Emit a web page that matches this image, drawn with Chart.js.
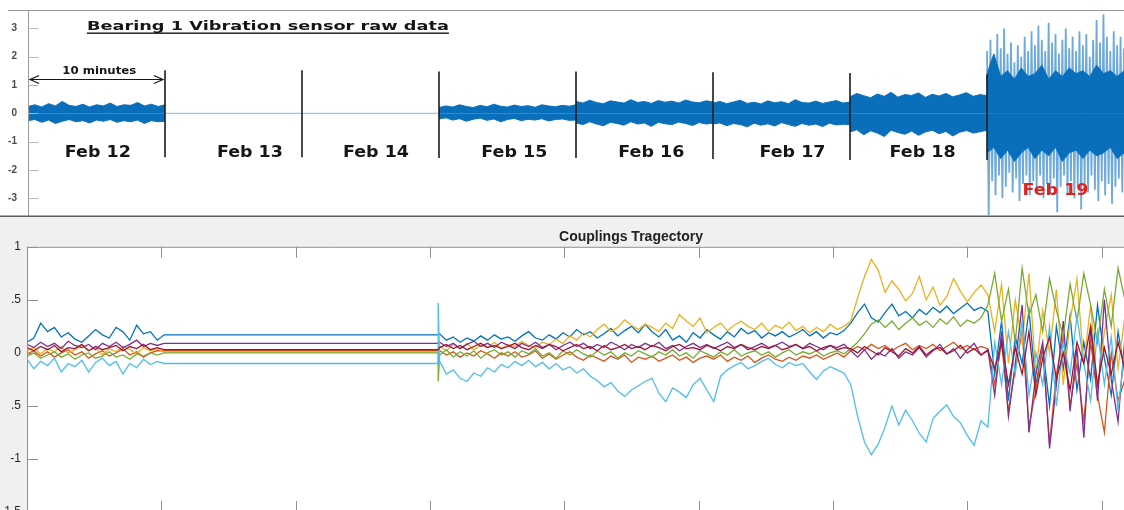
<!DOCTYPE html>
<html>
<head>
<meta charset="utf-8">
<script src="https://cdn.jsdelivr.net/npm/chart.js@4.4.1/dist/chart.umd.min.js"></script>
<style>
  html, body { margin: 0; padding: 0; background: #fff; }
  #wrap { position: relative; width: 1124px; height: 510px; overflow: hidden; }
  #topBox { position: absolute; left: 0; top: 0; width: 1124px; height: 217px; }
  #bottomBox { position: absolute; left: 0; top: 217px; width: 1262px; height: 310px; }
</style>
</head>
<body>
<div id="wrap">
  <div id="topBox"><canvas id="rawChart"></canvas></div>
  <div id="bottomBox"><canvas id="couplingChart"></canvas></div>
</div>
<script>
// ---------- top panel: raw vibration (x in days, one day = one 10 minute record) ----------
const rawTitle = 'Bearing 1 Vibration sensor raw data';
const dayLabels = ['Feb 12', 'Feb 13', 'Feb 14', 'Feb 15', 'Feb 16', 'Feb 17', 'Feb 18', 'Feb 19'];
const topTicks = [-3, -2, -1, 0, 1, 2, 3];

// envelope of the signal, sampled every 0.05 day
const feb12Upper = [0.24, 0.3, 0.22, 0.34, 0.26, 0.42, 0.28, 0.24, 0.32, 0.22, 0.3, 0.26, 0.36, 0.24, 0.3, 0.28, 0.38, 0.26, 0.32, 0.24, 0.3];
const feb12Lower = [-0.26, -0.22, -0.32, -0.24, -0.36, -0.28, -0.22, -0.3, -0.26, -0.34, -0.24, -0.28, -0.22, -0.32, -0.26, -0.3, -0.24, -0.36, -0.26, -0.3, -0.28];
const feb15Upper = [0.2, 0.26, 0.22, 0.3, 0.24, 0.2, 0.28, 0.23, 0.32, 0.25, 0.22, 0.29, 0.24, 0.27, 0.21, 0.3, 0.26, 0.23, 0.28, 0.25, 0.3];
const feb15Lower = [-0.2, -0.16, -0.24, -0.19, -0.28, -0.21, -0.17, -0.25, -0.2, -0.3, -0.22, -0.18, -0.26, -0.21, -0.24, -0.19, -0.27, -0.22, -0.2, -0.25, -0.24];
const feb16Upper = [0.42, 0.36, 0.46, 0.38, 0.34, 0.44, 0.4, 0.36, 0.48, 0.38, 0.42, 0.35, 0.45, 0.39, 0.43, 0.36, 0.47, 0.4, 0.37, 0.44, 0.4];
const feb16Lower = [-0.34, -0.4, -0.3, -0.38, -0.44, -0.32, -0.36, -0.42, -0.3, -0.38, -0.34, -0.46, -0.32, -0.37, -0.4, -0.31, -0.36, -0.43, -0.33, -0.38, -0.35];
const feb17Upper = [0.36, 0.42, 0.34, 0.4, 0.46, 0.35, 0.39, 0.33, 0.44, 0.37, 0.41, 0.34, 0.48, 0.38, 0.36, 0.43, 0.35, 0.4, 0.45, 0.36, 0.4];
const feb17Lower = [-0.38, -0.34, -0.44, -0.36, -0.4, -0.48, -0.35, -0.42, -0.37, -0.45, -0.33, -0.4, -0.46, -0.36, -0.42, -0.38, -0.47, -0.35, -0.41, -0.39, -0.4];
const feb18Upper = [0.58, 0.7, 0.62, 0.55, 0.68, 0.6, 0.74, 0.57, 0.66, 0.63, 0.72, 0.56, 0.67, 0.61, 0.7, 0.58, 0.65, 0.73, 0.6, 0.66, 0.62];
const feb18Lower = [-0.66, -0.58, -0.76, -0.62, -0.7, -0.82, -0.6, -0.68, -0.74, -0.63, -0.78, -0.66, -0.6, -0.72, -0.64, -0.8, -0.67, -0.61, -0.7, -0.65, -0.6];
const feb19CoreUpper = [1.4, 2.1, 1.3, 1.5, 1.2, 1.6, 1.3, 1.4, 1.7, 1.2, 1.5, 1.3, 1.6, 1.4, 1.5, 1.3, 1.7, 1.4, 1.5, 1.3, 1.5];
const feb19CoreLower = [-1.4, -1.2, -1.6, -1.3, -1.7, -1.4, -1.2, -1.6, -1.3, -1.5, -1.2, -1.7, -1.4, -1.3, -1.6, -1.3, -1.5, -1.4, -1.2, -1.6, -1.4];
// Feb 19 peaks, every 0.025 day
const feb19SpikeHigh = [2.2, 2.6, 1.9, 2.8, 2.3, 3.0, 2.1, 2.5, 1.8, 2.4, 2.0, 2.7, 2.2, 2.9, 2.4, 3.1, 2.6, 2.2, 3.2, 2.5, 2.8, 2.1, 2.6, 3.0, 2.3, 2.7, 2.2, 2.9, 2.4, 2.8, 2.0, 2.6, 3.3, 2.5, 3.5, 2.7, 2.2, 2.9, 2.4, 2.7, 2.3];
const feb19SpikeLow = [-3.6, -2.4, -2.9, -2.2, -3.0, -2.6, -2.1, -2.8, -2.3, -3.1, -2.5, -2.2, -2.9, -2.4, -2.7, -2.2, -3.0, -2.5, -2.8, -2.3, -3.5, -2.6, -2.2, -2.9, -2.4, -3.0, -2.6, -3.4, -2.5, -2.8, -2.2, -2.7, -3.1, -2.4, -2.9, -2.5, -3.2, -2.6, -2.3, -2.8, -2.5];
const quietLevel = 0; // Feb 13 and Feb 14 carry no signal
const dividerTop = [1.52, 1.52, 1.48, 1.48, 1.45, 1.42, 1.38];
const dividerBottom = [-1.55, -1.55, -1.58, -1.58, -1.62, -1.65, -1.65];

// ---------- bottom panel: couplings trajectory ----------
const couplingTitle = 'Couplings Tragectory';
const bottomTickValues = [-1.5, -1, -0.5, 0, 0.5, 1];
const bottomTickLabels = ['-1.5', '-1', '.5', '0', '.5', '1'];
const bottomXTicks = [0.98, 1.96, 2.94, 3.92, 4.9, 5.88, 6.86, 7.84, 8.82];
const couplingColors = ['#0072BD', '#D95319', '#EDB120', '#7E2F8E', '#77AC30', '#4DBEEE', '#A2142F'];

// Feb 12, every 0.05 day
const blueEarly = [0.1, 0.14, 0.28, 0.2, 0.24, 0.15, 0.19, 0.13, 0.1, 0.16, 0.22, 0.17, 0.14, 0.24, 0.2, 0.12, 0.26, 0.18, 0.2, 0.12];
const orangeEarly = [-0.01, 0.02, -0.03, 0.01, -0.04, 0.0, 0.03, -0.02, 0.01, -0.05, -0.01, 0.02, -0.03, 0.0, 0.04, -0.02, 0.01, -0.04, 0.0, 0.02];
const yellowEarly = [0.02, 0.05, -0.01, 0.04, 0.01, 0.06, 0.0, 0.03, 0.07, 0.02, 0.05, -0.02, 0.04, 0.01, 0.06, 0.03, -0.01, 0.05, 0.02, 0.04];
const purpleEarly = [0.08, 0.05, 0.1, 0.06, 0.09, 0.04, 0.11, 0.07, 0.05, 0.08, 0.03, 0.09, 0.06, 0.1, 0.05, 0.08, 0.12, 0.06, 0.09, 0.07];
const greenEarly = [-0.03, 0.0, -0.05, -0.02, 0.01, -0.04, -0.01, -0.06, -0.02, 0.0, -0.05, -0.03, 0.01, -0.04, -0.02, -0.06, -0.01, -0.03, 0.0, -0.02];
const cyanEarly = [-0.06, -0.15, -0.08, -0.12, -0.05, -0.18, -0.1, -0.13, -0.07, -0.18, -0.09, -0.05, -0.12, -0.08, -0.2, -0.1, -0.14, -0.06, -0.11, -0.08];
const redEarly = [0.05, 0.02, 0.06, 0.03, 0.07, 0.01, 0.05, 0.04, 0.08, 0.02, 0.06, 0.03, 0.05, 0.07, 0.02, 0.06, 0.04, 0.08, 0.03, 0.05];

// held values through Feb 13-14, and the jump when data resumes
const quietCouplings = [0.17, 0.02, 0.01, 0.09, 0.0, -0.1, 0.03];
const restartSpike = [null, null, null, null, -0.27, 0.47, null];

// Feb 15 to Feb 19, every 0.05 day
const blueLate = [0.18, 0.12, 0.15, 0.1, 0.14, 0.11, 0.16, 0.12, 0.17, 0.13, 0.15, 0.11, 0.16, 0.2, 0.14, 0.12, 0.17, 0.13, 0.19, 0.15,
  0.22, 0.17, 0.2, 0.14, 0.18, 0.23, 0.16, 0.21, 0.25, 0.19, 0.27, 0.2, 0.15, 0.22, 0.12, 0.16, 0.1, 0.19, 0.14, 0.22,
  0.17, 0.13, 0.2, 0.15, 0.23, 0.18, 0.21, 0.14, 0.19, 0.16, 0.2, 0.15, 0.18, 0.22, 0.16, 0.2, 0.14, 0.19, 0.17, 0.21,
  0.28, 0.38, 0.46, 0.33, 0.29, 0.38, 0.46, 0.35, 0.39, 0.33, 0.41, 0.36, 0.43, 0.38, 0.44, 0.37, 0.42, 0.47, 0.4, 0.43,
  0.39, -0.2, 0.3, -0.45, 0.15, -0.1, 0.4, -0.3, 0.05, -0.5, 0.25, -0.15, 0.35, -0.35, 0.1, -0.25, 0.45, -0.05, -0.4, 0.2, -0.2];
const orangeLate = [0.02, -0.02, 0.01, -0.04, 0.0, -0.03, 0.02, -0.01, -0.05, 0.0, -0.03, 0.01, -0.04, -0.02, 0.02, -0.05, -0.01, -0.06, -0.02, 0.01,
  -0.04, -0.07, -0.02, -0.05, -0.08, -0.03, -0.06, -0.02, -0.09, -0.04, -0.06, -0.03, -0.08, -0.05, -0.02, -0.07, -0.04, -0.09, -0.05, -0.03,
  -0.06, -0.02, -0.08, -0.04, -0.07, -0.03, -0.09, -0.05, -0.02, -0.06, -0.08, -0.04, -0.07, -0.03, -0.05, -0.02, -0.06, -0.03, 0.0, -0.04,
  0.02, 0.06, 0.03, 0.08, 0.04, 0.07, 0.02, 0.06, 0.09, 0.03, 0.07, 0.04, 0.08, 0.02, 0.06, 0.1, 0.04, 0.07, 0.03, 0.06,
  0.04, -0.3, 0.1, -0.55, -0.15, 0.2, -0.7, -0.35, 0.05, -0.85, -0.2, 0.15, -0.5, -0.1, -0.65, 0.1, -0.4, -0.75, 0.0, -0.45, -0.25];
const yellowLate = [0.06, 0.02, 0.08, 0.04, 0.09, 0.03, 0.07, 0.05, 0.1, 0.04, 0.08, 0.06, 0.11, 0.07, 0.05, 0.1, 0.08, 0.13, 0.09, 0.16,
  0.12, 0.19, 0.15, 0.22, 0.27, 0.2, 0.24, 0.31, 0.26, 0.22, 0.27, 0.24, 0.2, 0.28, 0.23, 0.36, 0.3, 0.25, 0.33, 0.19,
  0.24, 0.28, 0.21, 0.26, 0.3, 0.25, 0.22, 0.28, 0.2, 0.26, 0.23, 0.29, 0.21, 0.25, 0.19, 0.24, 0.2, 0.27, 0.22, 0.25,
  0.3, 0.52, 0.72, 0.88, 0.78, 0.57, 0.68, 0.6, 0.49, 0.56, 0.72, 0.5, 0.62, 0.45, 0.53, 0.7, 0.58, 0.48, 0.57, 0.64,
  0.55, 0.2, 0.65, -0.1, 0.5, 0.1, 0.75, -0.2, 0.4, 0.0, 0.6, -0.3, 0.3, 0.7, -0.1, 0.45, -0.35, 0.2, 0.55, -0.15, 0.35];
const purpleLate = [0.1, 0.06, 0.09, 0.04, 0.08, 0.11, 0.06, 0.09, 0.05, 0.1, 0.07, 0.04, 0.09, 0.06, 0.1, 0.05, 0.08, 0.03, 0.07, 0.1,
  0.06, 0.09, 0.04, 0.08, 0.05, 0.1, 0.07, 0.03, 0.08, 0.05, 0.09, 0.06, 0.1, 0.04, 0.07, 0.02, 0.06, 0.09, 0.05, 0.08,
  0.04, 0.07, 0.1, 0.05, 0.08, 0.03, 0.06, 0.09, 0.05, 0.07, 0.1, 0.06, 0.08, 0.04, 0.09, 0.06, 0.03, 0.07, 0.05, 0.08,
  0.02, -0.04, 0.03, -0.06, 0.0, -0.03, 0.04, -0.05, 0.01, -0.02, 0.05, -0.04, 0.02, 0.08, -0.01, 0.04, -0.05, 0.03, 0.09, -0.02,
  0.03, -0.4, 0.2, -0.6, -0.1, 0.45, -0.75, -0.2, 0.1, -0.9, -0.3, 0.3, -0.55, 0.05, -0.8, 0.25, -0.45, 0.5, -0.25, -0.65, 0.15];
const greenLate = [-0.02, 0.03, -0.04, 0.01, -0.03, 0.02, -0.05, 0.0, 0.03, -0.02, 0.01, -0.04, 0.02, -0.01, 0.04, -0.03, 0.0, -0.05, 0.02, -0.02,
  0.03, -0.01, -0.04, 0.02, -0.02, 0.01, -0.05, 0.0, -0.03, 0.02, -0.01, -0.04, 0.01, -0.02, 0.03, -0.03, 0.0, -0.05, 0.02, -0.01,
  -0.04, 0.01, -0.02, 0.03, -0.03, 0.0, 0.02, -0.02, 0.01, -0.04, 0.0, 0.03, -0.02, 0.01, -0.01, 0.02, -0.03, 0.0, 0.02, -0.01,
  0.04, 0.1, 0.18, 0.27, 0.31, 0.24, 0.3, 0.22, 0.28, 0.33, 0.26, 0.3, 0.24, 0.32, 0.27, 0.34, 0.25, 0.31, 0.28, 0.33,
  0.45, 0.75, 0.3, 0.6, 0.1, 0.8, 0.35, 0.55, 0.2, 0.7, 0.4, 0.15, 0.65, 0.3, 0.75, 0.45, 0.1, 0.6, 0.25, 0.8, 0.5];
const cyanLate = [-0.08, -0.2, -0.16, -0.24, -0.27, -0.19, -0.22, -0.14, -0.18, -0.11, -0.14, -0.08, -0.12, -0.07, -0.13, -0.09, -0.15, -0.1, -0.16, -0.13,
  -0.19, -0.15, -0.22, -0.26, -0.32, -0.28, -0.36, -0.41, -0.35, -0.31, -0.27, -0.24, -0.38, -0.46, -0.33, -0.37, -0.42, -0.3, -0.24, -0.35,
  -0.46, -0.22, -0.16, -0.12, -0.09, -0.15, -0.12, -0.08, -0.05, -0.11, -0.14, -0.09, -0.12, -0.1, -0.18, -0.25, -0.17, -0.13, -0.16, -0.19,
  -0.3, -0.6, -0.84, -0.96, -0.86, -0.7, -0.5, -0.68, -0.54, -0.64, -0.76, -0.84, -0.62, -0.55, -0.49, -0.6, -0.66, -0.78, -0.87, -0.64,
  -0.7, 0.1, -0.3, 0.2, -0.2, 0.3, -0.4, 0.0, -0.3, 0.25, -0.5, 0.1, -0.2, 0.35, -0.1, -0.45, 0.2, -0.3, 0.15, -0.55, 0.05];
const redLate = [0.05, 0.08, 0.04, 0.07, 0.03, 0.06, 0.09, 0.05, 0.07, 0.04, 0.06, 0.09, 0.05, 0.03, 0.07, 0.04, 0.08, 0.06, 0.02, 0.05,
  0.08, 0.04, 0.06, 0.02, 0.07, 0.03, 0.05, 0.08, 0.04, 0.06, 0.03, 0.07, 0.05, 0.02, 0.06, 0.08, 0.04, 0.05, 0.03, 0.07,
  0.05, 0.02, 0.06, 0.04, 0.08, 0.05, 0.03, 0.06, 0.04, 0.07, 0.03, 0.05, 0.08, 0.04, 0.06, 0.02, 0.05, 0.07, 0.03, 0.05,
  0.04, 0.0, 0.06, 0.02, -0.02, 0.05, 0.01, -0.03, 0.04, 0.0, 0.06, -0.02, 0.03, 0.05, -0.01, 0.02, 0.07, 0.0, 0.04, -0.02,
  0.02, -0.15, 0.1, -0.3, 0.05, -0.2, 0.2, -0.4, -0.05, 0.15, -0.25, 0.0, -0.35, 0.1, -0.1, 0.25, -0.3, 0.05, -0.2, 0.1, -0.15];

const earlySeries = [blueEarly, orangeEarly, yellowEarly, purpleEarly, greenEarly, cyanEarly, redEarly];
const lateSeries = [blueLate, orangeLate, yellowLate, purpleLate, greenLate, cyanLate, redLate];

// ---------- helpers ----------
function toPoints(start, step, values) {
  return values.map((v, i) => ({ x: start + i * step, y: v }));
}

function fitText(ctx, text, cx, cy, width) {
  const w = ctx.measureText(text).width;
  ctx.save();
  ctx.translate(cx, cy);
  ctx.scale(width / w, 1);
  ctx.textAlign = 'center';
  ctx.textBaseline = 'middle';
  ctx.fillText(text, 0, 0);
  ctx.restore();
}

// MATLAB-like frame: grey outside, white axes box, inward ticks
const matlabFrame = {
  id: 'matlabFrame',
  beforeDraw(chart, args, opts) {
    const { ctx, chartArea: a, width, height } = chart;
    ctx.save();
    ctx.fillStyle = opts.outer;
    ctx.fillRect(0, 0, width, height);
    ctx.fillStyle = '#ffffff';
    ctx.fillRect(a.left, a.top, a.right - a.left, a.bottom - a.top);
    ctx.restore();
  },
  afterDatasetsDraw(chart, args, opts) {
    const { ctx, chartArea: a, scales } = chart;
    const x = scales.x, y = scales.y;
    ctx.save();
    ctx.strokeStyle = opts.axis;
    ctx.lineWidth = 1;
    ctx.beginPath();
    ctx.moveTo(opts.frameFrom, a.top + 0.5);
    ctx.lineTo(a.right, a.top + 0.5);
    ctx.moveTo(a.left + 0.5, a.top);
    ctx.lineTo(a.left + 0.5, a.bottom);
    ctx.stroke();
    ctx.strokeStyle = opts.tick;
    ctx.beginPath();
    y.ticks.forEach(t => {
      const py = Math.round(y.getPixelForValue(t.value)) + 0.5;
      ctx.moveTo(a.left, py);
      ctx.lineTo(a.left + opts.tickLen, py);
    });
    (opts.xTicks || []).forEach(v => {
      const px = Math.round(x.getPixelForValue(v)) + 0.5;
      ctx.moveTo(px, a.top);
      ctx.lineTo(px, a.top + opts.tickLen);
      ctx.moveTo(px, a.bottom);
      ctx.lineTo(px, a.bottom - opts.tickLen);
    });
    ctx.stroke();
    if (opts.separator) {
      ctx.fillStyle = opts.separator;
      ctx.fillRect(0, a.bottom - 0.5, chart.width, 2);
    }
    ctx.restore();
  }
};

// titles, arrow and day names on the raw data panel
const rawAnnotations = {
  id: 'rawAnnotations',
  afterDatasetsDraw(chart, args, opts) {
    const { ctx, scales: { x, y } } = chart;
    ctx.save();
    ctx.fillStyle = '#161616';
    ctx.strokeStyle = '#161616';

    // underlined title
    ctx.font = 'bold 13px "DejaVu Sans"';
    const tLeft = x.getPixelForValue(0.43);
    const tMid = y.getPixelForValue(3.05);
    fitText(ctx, rawTitle, tLeft + opts.titleWidth / 2, tMid, opts.titleWidth);
    ctx.fillRect(tLeft, tMid + 5.5, opts.titleWidth, 1.4);

    // 10 minutes double arrow
    const ay = Math.round(y.getPixelForValue(1.21)) + 0.5;
    const ax0 = x.getPixelForValue(0.015), ax1 = x.getPixelForValue(0.985);
    ctx.lineWidth = 1.2;
    ctx.beginPath();
    ctx.moveTo(ax0, ay); ctx.lineTo(ax1, ay);
    ctx.moveTo(ax0 + 9, ay - 4); ctx.lineTo(ax0, ay); ctx.lineTo(ax0 + 9, ay + 4);
    ctx.moveTo(ax1 - 9, ay - 4); ctx.lineTo(ax1, ay); ctx.lineTo(ax1 - 9, ay + 4);
    ctx.stroke();
    ctx.font = 'bold 10px "DejaVu Sans"';
    fitText(ctx, '10 minutes', x.getPixelForValue(0.52), y.getPixelForValue(1.49), 74);

    // day names
    ctx.font = 'bold 15px "DejaVu Sans"';
    dayLabels.forEach((d, i) => {
      const last = i === dayLabels.length - 1;
      ctx.fillStyle = last ? '#e3211c' : '#161616';
      fitText(ctx, d, x.getPixelForValue(opts.labelCenters[i]), y.getPixelForValue(last ? -2.75 : -1.4), 66);
    });
    ctx.restore();
  }
};

// ---------- top chart ----------
const noiseBlue = '#0a6fbb';
const bands = [
  [0, feb12Upper, feb12Lower], [3, feb15Upper, feb15Lower], [4, feb16Upper, feb16Lower],
  [5, feb17Upper, feb17Lower], [6, feb18Upper, feb18Lower], [7, feb19CoreUpper, feb19CoreLower]
];
const rawDatasets = [];
const dividerPts = [];
dividerTop.forEach((t, i) => {
  dividerPts.push({ x: i + 1, y: t }, { x: i + 1, y: dividerBottom[i] }, { x: i + 1, y: null });
});
rawDatasets.push({ data: dividerPts, borderColor: '#1c1c1c', borderWidth: 1.6, pointRadius: 0, order: 0 });
rawDatasets.push({ data: [{ x: 1, y: quietLevel }, { x: 3, y: quietLevel }], borderColor: '#7fbbe6', borderWidth: 1, pointRadius: 0, order: 1 });
bands.forEach(([start, up, low]) => {
  [up, low].forEach(vals => {
    rawDatasets.push({
      data: toPoints(start, 0.05, vals), fill: 'origin', backgroundColor: noiseBlue,
      borderColor: noiseBlue, borderWidth: 1, pointRadius: 0, order: 2
    });
  });
});
// Feb 19 peaks behind the dense core
const spikePts = [];
feb19SpikeHigh.forEach((h, i) => {
  spikePts.push({ x: 7 + i * 0.025, y: h }, { x: 7 + i * 0.025 + 0.0125, y: feb19SpikeLow[i] });
});
rawDatasets.push({ data: spikePts, borderColor: 'rgba(60,140,210,0.75)', borderWidth: 1.8, pointRadius: 0, order: 4 });

new Chart(document.getElementById('rawChart'), {
  type: 'line',
  data: { datasets: rawDatasets },
  options: {
    responsive: true,
    maintainAspectRatio: false,
    animation: false,
    layout: { padding: { top: 10, bottom: 1, left: 0, right: 0 } },
    plugins: {
      legend: { display: false },
      tooltip: { enabled: false },
      matlabFrame: { outer: '#ffffff', axis: '#9a9a9a', tick: '#b4b4b4', tickLen: 10, frameFrom: 8, separator: '#5e5e5e' },
      rawAnnotations: { titleWidth: 362, labelCenters: [0.51, 1.62, 2.54, 3.55, 4.55, 5.58, 6.53, 7.5] }
    },
    scales: {
      x: { type: 'linear', min: 0, max: 8, display: false },
      y: {
        min: -3.63, max: 3.65,
        afterBuildTicks: s => { s.ticks = topTicks.map(v => ({ value: v })); },
        afterFit: s => { s.width = 28; s.paddingTop = 0; s.paddingBottom = 0; },
        grid: { display: false, drawTicks: false },
        border: { display: false },
        ticks: { padding: 11, color: '#4a4a4a', font: { family: 'Liberation Sans', size: 10, weight: 'bold' }, callback: v => String(v) }
      }
    }
  },
  plugins: [matlabFrame, rawAnnotations]
});

// ---------- bottom chart (axes run past the right edge of the picture) ----------
const couplingDatasets = lateSeries.map((late, k) => {
  const pts = toPoints(0, 0.05, earlySeries[k]);
  pts.push({ x: 1, y: quietCouplings[k] }, { x: 3, y: quietCouplings[k] });
  if (restartSpike[k] !== null) pts.push({ x: 3, y: restartSpike[k] });
  return {
    data: pts.concat(toPoints(3.01, 0.05, late)),
    borderColor: couplingColors[k],
    borderWidth: 1.3,
    pointRadius: 0,
    order: 10 - k
  };
});

new Chart(document.getElementById('couplingChart'), {
  type: 'line',
  data: { datasets: couplingDatasets },
  options: {
    responsive: true,
    maintainAspectRatio: false,
    animation: false,
    layout: { padding: { top: 0, bottom: 15, left: 0, right: 0 } },
    plugins: {
      legend: { display: false },
      tooltip: { enabled: false },
      title: {
        display: true, text: couplingTitle, color: '#222222',
        font: { family: 'Liberation Sans', size: 14, weight: 'bold' },
        padding: { top: 12, bottom: 1 }
      },
      matlabFrame: { outer: '#f0f0f0', axis: '#8f8f8f', tick: '#8f8f8f', tickLen: 11, frameFrom: 27, xTicks: bottomXTicks }
    },
    scales: {
      x: { type: 'linear', min: 0, max: 9.01, display: false },
      y: {
        min: -1.5, max: 1,
        afterBuildTicks: s => { s.ticks = bottomTickValues.map(v => ({ value: v })); },
        afterFit: s => { s.width = 27; s.paddingTop = 0; s.paddingBottom = 0; },
        grid: { display: false, drawTicks: false },
        border: { display: false },
        ticks: { padding: 6, color: '#262626', font: { family: 'Liberation Sans', size: 12 }, callback: (v, i) => bottomTickLabels[i] }
      }
    }
  },
  plugins: [matlabFrame]
});
</script>
</body>
</html>
